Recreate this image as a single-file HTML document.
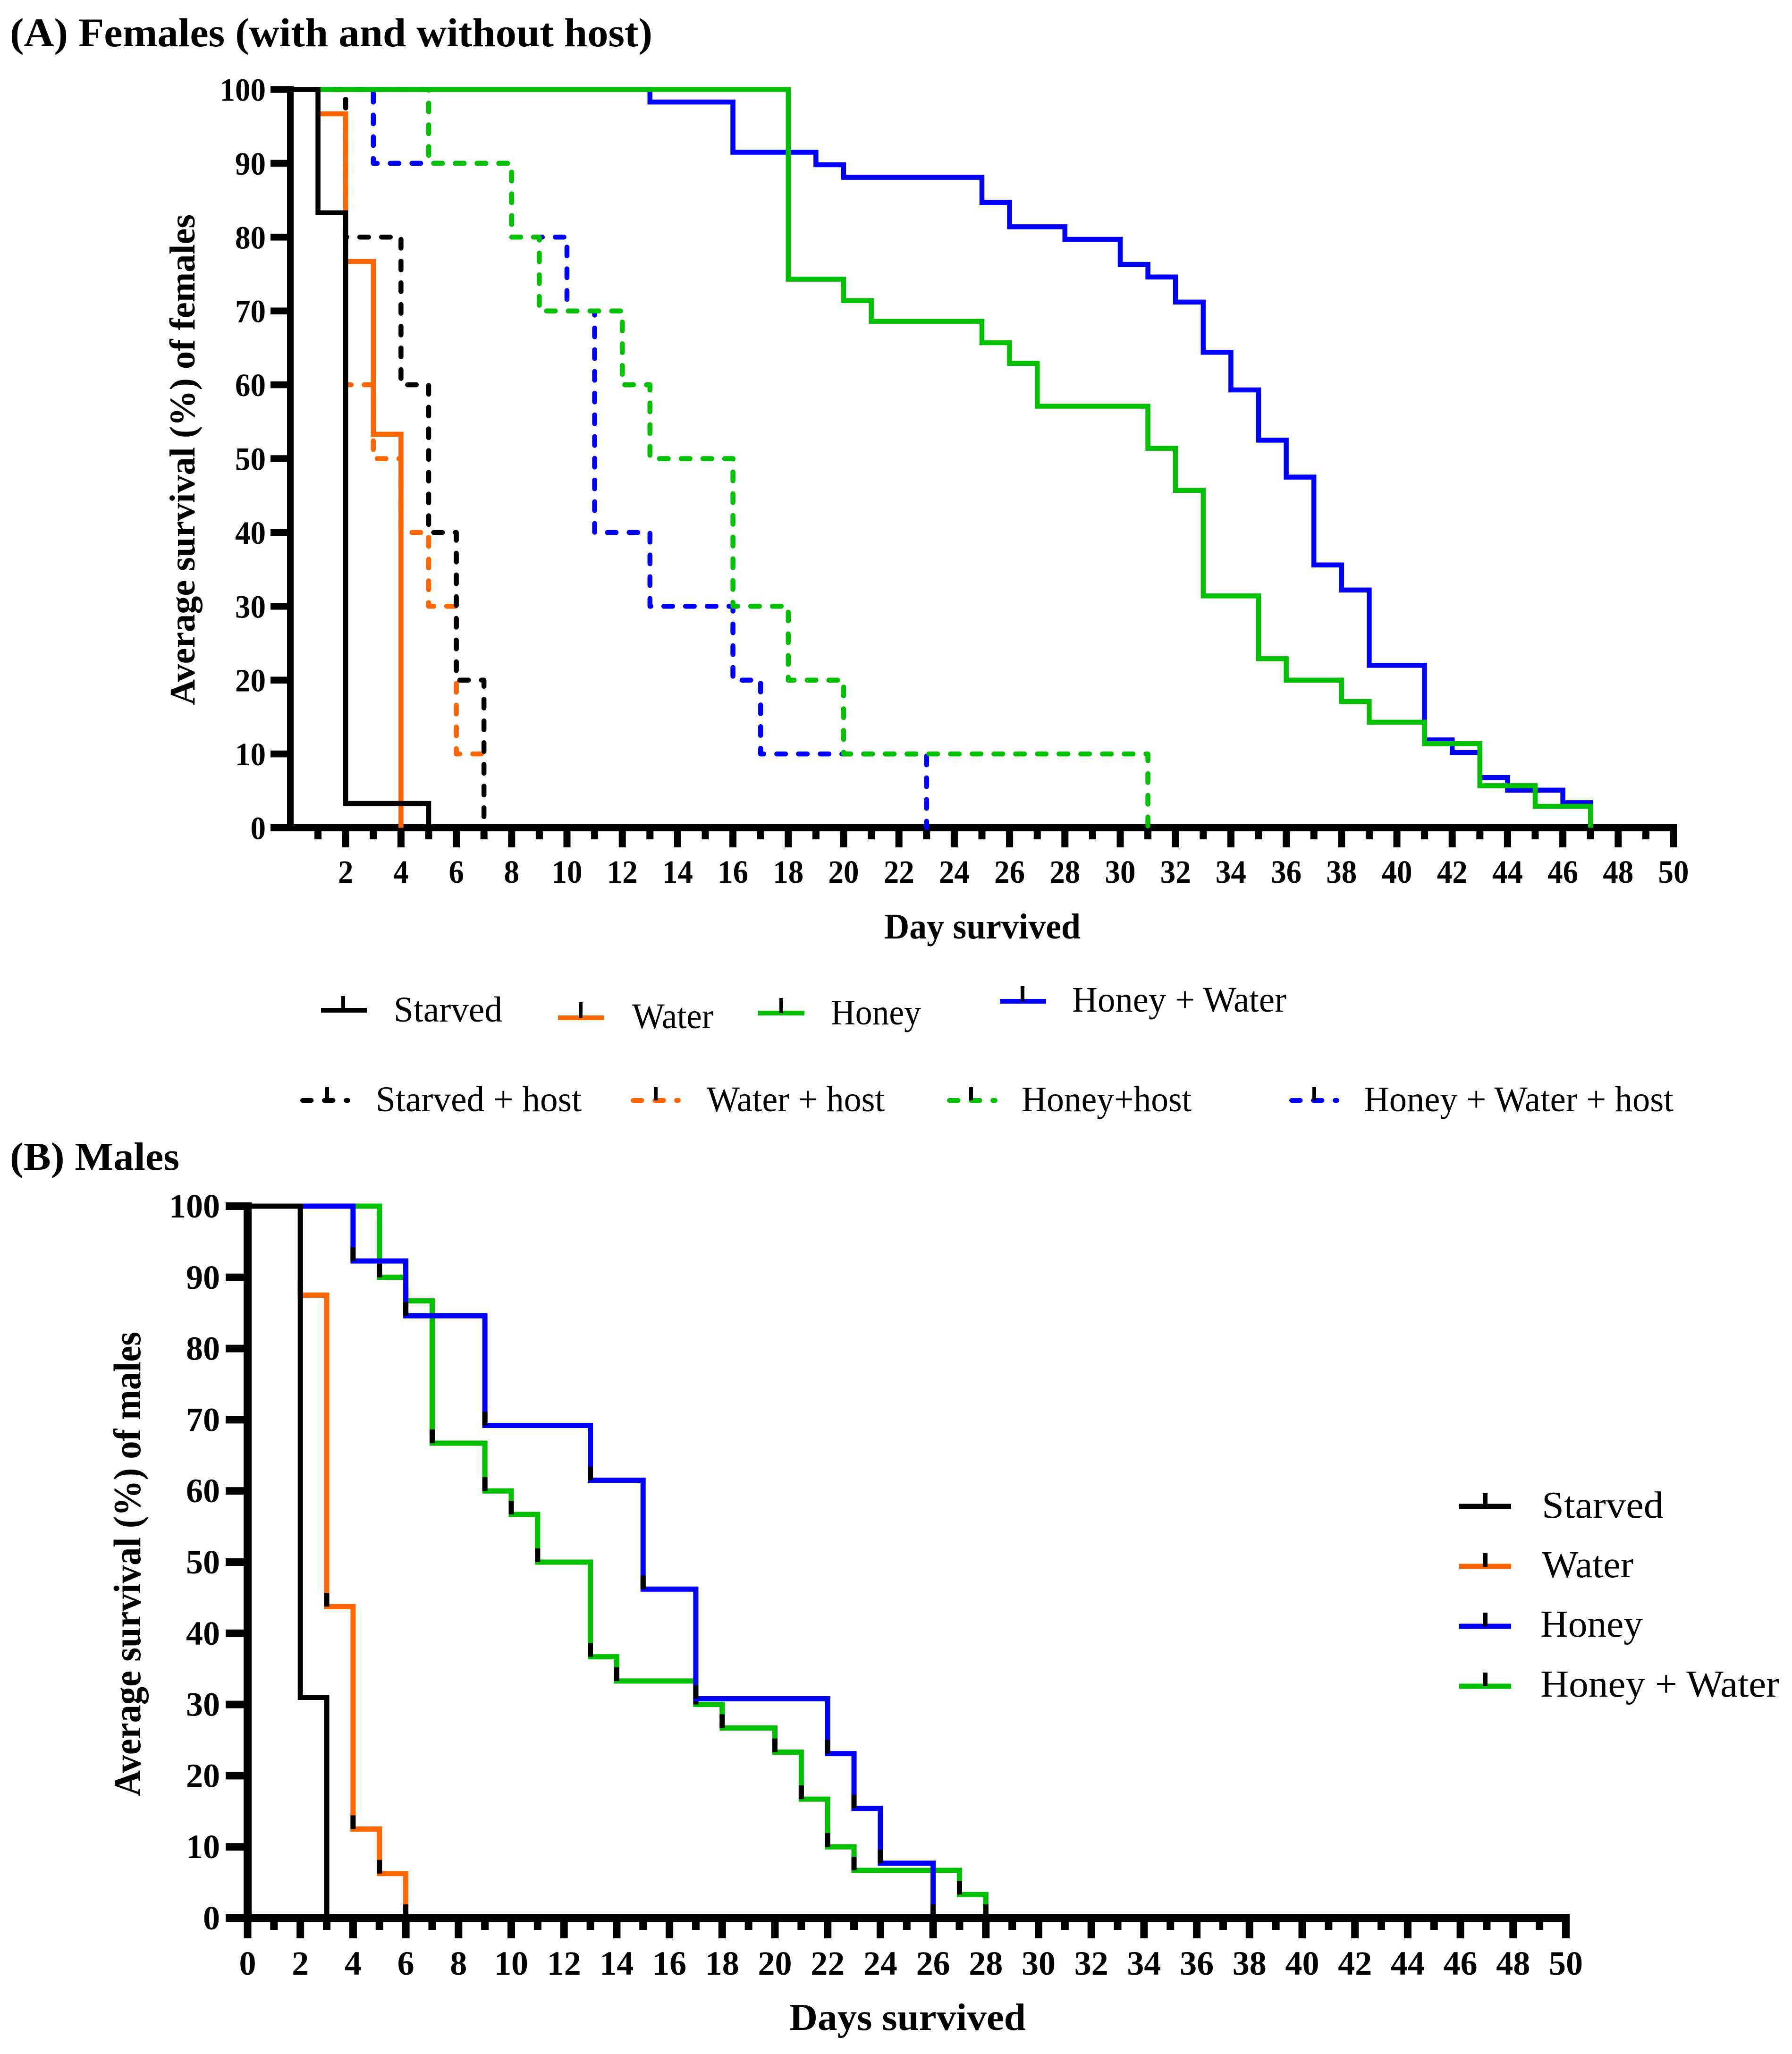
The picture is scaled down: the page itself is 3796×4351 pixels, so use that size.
<!DOCTYPE html>
<html lang="en">
<head>
<meta charset="utf-8">
<title>Average survival of females and males</title>
<style>
html,body{margin:0;padding:0;background:#fff;}
svg{display:block;}
text{font-family:"Liberation Serif","DejaVu Serif",serif;fill:#000;}
.b{font-weight:bold;}
</style>
</head>
<body>
<svg id="fig" xmlns="http://www.w3.org/2000/svg" width="3796" height="4351" viewBox="0 0 3796 4351">
<rect x="0" y="0" width="3796" height="4351" fill="#fff"/>
<text class="b" x="21" y="98" font-size="86" textLength="1361" lengthAdjust="spacingAndGlyphs">(A) Females (with and without host)</text>
<text class="b" x="21" y="2478" font-size="84" textLength="359" lengthAdjust="spacingAndGlyphs">(B) Males</text>
<text class="b" transform="translate(412,1494) rotate(-90)" font-size="76" textLength="1040" lengthAdjust="spacingAndGlyphs">Average survival (%) of females</text>
<text class="b" x="1873" y="1988" font-size="76" textLength="416" lengthAdjust="spacingAndGlyphs">Day survived</text>
<text class="b" transform="translate(297,3805) rotate(-90)" font-size="82" textLength="984" lengthAdjust="spacingAndGlyphs">Average survival (%) of males</text>
<text class="b" x="1672" y="4300" font-size="80" textLength="501" lengthAdjust="spacingAndGlyphs">Days survived</text>

<g id="panelA"></g>
<g id="panelB"></g>

<g>
  <g>
    <line x1="680" y1="2140" x2="777" y2="2140" stroke="#000" stroke-width="10"/><line x1="727" y1="2110" x2="727" y2="2140" stroke="#000" stroke-width="8"/>
    <text x="834" y="2164" font-size="76" textLength="230" lengthAdjust="spacingAndGlyphs">Starved</text>
  </g>
  <g>
    <line x1="1182" y1="2156" x2="1280" y2="2156" stroke="#ff6600" stroke-width="10"/><line x1="1230" y1="2123" x2="1230" y2="2156" stroke="#000" stroke-width="8"/>
    <text x="1339" y="2178" font-size="76" textLength="172" lengthAdjust="spacingAndGlyphs">Water</text>
  </g>
  <g>
    <line x1="1606" y1="2146" x2="1704" y2="2146" stroke="#00c000" stroke-width="10"/><line x1="1655" y1="2114" x2="1655" y2="2146" stroke="#000" stroke-width="8"/>
    <text x="1760" y="2170" font-size="76" textLength="191" lengthAdjust="spacingAndGlyphs">Honey</text>
  </g>
  <g>
    <line x1="2118" y1="2121" x2="2216" y2="2121" stroke="#0000ff" stroke-width="10"/><line x1="2166" y1="2089" x2="2166" y2="2121" stroke="#000" stroke-width="8"/>
    <text x="2271" y="2143" font-size="76" textLength="454" lengthAdjust="spacingAndGlyphs">Honey + Water</text>
  </g>
  <g>
    <line x1="641" y1="2331" x2="737" y2="2331" stroke="#000" stroke-width="10" stroke-linecap="round" stroke-dasharray="18.5 27.5"/><line x1="693" y1="2303" x2="693" y2="2331" stroke="#000" stroke-width="8"/>
    <text x="796" y="2354" font-size="76" textLength="436" lengthAdjust="spacingAndGlyphs">Starved + host</text>
  </g>
  <g>
    <line x1="1341" y1="2331" x2="1437" y2="2331" stroke="#ff6600" stroke-width="10" stroke-linecap="round" stroke-dasharray="18.5 27.5"/><line x1="1389" y1="2303" x2="1389" y2="2331" stroke="#000" stroke-width="8"/>
    <text x="1497" y="2354" font-size="76" textLength="377" lengthAdjust="spacingAndGlyphs">Water + host</text>
  </g>
  <g>
    <line x1="2011" y1="2331" x2="2108" y2="2331" stroke="#00c000" stroke-width="10" stroke-linecap="round" stroke-dasharray="18.5 27.5"/><line x1="2057" y1="2303" x2="2057" y2="2331" stroke="#000" stroke-width="8"/>
    <text x="2164" y="2354" font-size="76" textLength="360" lengthAdjust="spacingAndGlyphs">Honey+host</text>
  </g>
  <g>
    <line x1="2736" y1="2331" x2="2832" y2="2331" stroke="#0000ff" stroke-width="10" stroke-linecap="round" stroke-dasharray="18.5 27.5"/><line x1="2784" y1="2303" x2="2784" y2="2331" stroke="#000" stroke-width="8"/>
    <text x="2889" y="2354" font-size="76" textLength="656" lengthAdjust="spacingAndGlyphs">Honey + Water + host</text>
  </g>
</g>

<g>
  <g>
    <line x1="3091" y1="3191" x2="3201" y2="3191" stroke="#000" stroke-width="11"/><line x1="3146" y1="3163" x2="3146" y2="3191" stroke="#000" stroke-width="10"/>
    <text x="3266" y="3215" font-size="80" textLength="258" lengthAdjust="spacingAndGlyphs">Starved</text>
  </g>
  <g>
    <line x1="3091" y1="3318" x2="3201" y2="3318" stroke="#ff6600" stroke-width="11"/><line x1="3146" y1="3290" x2="3146" y2="3319" stroke="#000" stroke-width="10"/>
    <text x="3266" y="3341" font-size="80" textLength="194" lengthAdjust="spacingAndGlyphs">Water</text>
  </g>
  <g>
    <line x1="3091" y1="3445" x2="3201" y2="3445" stroke="#0000ff" stroke-width="11"/><line x1="3146" y1="3416" x2="3146" y2="3445" stroke="#000" stroke-width="10"/>
    <text x="3263" y="3467" font-size="80" textLength="217" lengthAdjust="spacingAndGlyphs">Honey</text>
  </g>
  <g>
    <line x1="3091" y1="3572" x2="3201" y2="3572" stroke="#00c000" stroke-width="11"/><line x1="3146" y1="3543" x2="3146" y2="3572" stroke="#000" stroke-width="10"/>
    <text x="3263" y="3594" font-size="80" textLength="506" lengthAdjust="spacingAndGlyphs">Honey + Water</text>
  </g>
</g>
</svg>
<script>
// ---- tick data ----
const yTickValues = [0,10,20,30,40,50,60,70,80,90,100];
const dayTickValues = [];
const femaleXLabels = ['2','4','6','8','10','12','14','16','18','20','22','24','26','28','30','32','34','36','38','40','42','44','46','48','50'];
const maleXLabels = ['0','2','4','6','8','10','12','14','16','18','20','22','24','26','28','30','32','34','36','38','40','42','44','46','48','50'];

// ---- panel A: day of each drop and the survival value after that drop ----
const fStarvedDays = [1,2,5];
const fStarvedValues = [83.3,3.3,0];
const fWaterDays = [1,2,3,4];
const fWaterValues = [96.7,76.7,53.3,0];
const fHoneyDays = [18,20,21,25,26,27,31,32,33,35,36,38,39,41,43,45,47];
const fHoneyValues = [74.3,71.4,68.6,65.7,62.9,57.1,51.4,45.7,31.4,22.9,20,17.1,14.3,11.4,5.7,2.9,0];
const fHoneyWaterDays = [13,16,19,20,25,26,28,30,31,32,33,34,35,36,37,38,39,41,42,43,44,46,47];
const fHoneyWaterValues = [98.3,91.5,89.8,88.1,84.7,81.4,79.7,76.3,74.6,71.2,64.4,59.3,52.5,47.5,35.6,32.2,22,11.9,10.2,6.8,5.1,3.4,0];
const fStarvedHostDays = [2,4,5,6,7];
const fStarvedHostValues = [80,60,40,20,0];
const fWaterHostDays = [2,3,4,5,6,7];
const fWaterHostValues = [60,50,40,30,10,0];
const fHoneyHostDays = [5,8,9,12,13,16,18,20,31];
const fHoneyHostValues = [90,80,70,60,50,30,20,10,0];
const fHoneyWaterHostDays = [3,8,10,11,13,16,17,23];
const fHoneyWaterHostValues = [90,80,70,40,30,20,10,0];

// ---- panel B ----
const mStarvedDays = [2,3];
const mStarvedValues = [31,0];
const mWaterDays = [2,3,4,5,6];
const mWaterValues = [87.5,43.75,12.5,6.25,0];
const mHoneyDays = [4,6,9,13,15,17,22,23,24,26];
const mHoneyValues = [92.3,84.6,69.2,61.5,46.2,30.8,23.1,15.4,7.7,0];
const mHoneyWaterDays = [5,6,7,9,10,11,13,14,17,18,20,21,22,23,27,28];
const mHoneyWaterValues = [90,86.7,66.7,60,56.7,50,36.7,33.3,30,26.7,23.3,16.7,10,6.7,3.3,0];

for (let d = 0; d <= 50; d++) { dayTickValues.push(d); }

const NS = 'http://www.w3.org/2000/svg';
function mk(parent, tag, attrs) {
  const el = document.createElementNS(NS, tag);
  for (const k in attrs) { el.setAttribute(k, attrs[k]); }
  parent.appendChild(el);
  return el;
}
function stepPath(days, values, sx, sy) {
  let p = 'M' + sx(0) + ' ' + sy(100);
  let prev = 100;
  for (let i = 0; i < days.length; i++) {
    p += ' L' + sx(days[i]) + ' ' + sy(prev);
    p += ' L' + sx(days[i]) + ' ' + sy(values[i]);
    prev = values[i];
  }
  return p;
}
function drawAxes(g, c) {
  const sx = c.sx, sy = c.sy;
  const yAxis = mk(g, 'rect', {x: sx(0) - c.yAxisW / 2, y: sy(100) - c.yTickH / 2, width: c.yAxisW, height: sy(0) - sy(100) + c.yTickH / 2, fill: '#000'});
  
  
  const xAxis = mk(g, 'rect', {x: c.yTickLeft, y: sy(0) - c.xAxisW / 2, width: sx(50) + c.tickW / 2 - c.yTickLeft, height: c.xAxisW, fill: '#000'});
  
  
  yTickValues.forEach(function (v) {
    const t = mk(g, 'rect', {x: c.yTickLeft, y: sy(v) - c.yTickH / 2, width: sx(0) - c.yTickLeft, height: c.yTickH, fill: '#000'});
    
    
    const s = String(v);
    const l = mk(g, 'text', {x: c.yLabelX, y: sy(v) + 24, 'text-anchor': 'end', 'font-size': c.font, 'font-weight': 'bold', textLength: s.length * c.digitW, lengthAdjust: 'spacingAndGlyphs'});
    l.textContent = s;
    
    
  });
  dayTickValues.forEach(function (d) {
    if (d === 0 && !c.zeroTick) { return; }
    const major = d % 2 === 0;
    const t = mk(g, 'rect', {x: sx(d) - c.tickW / 2, y: sy(0), width: c.tickW, height: major ? c.majorLen : c.minorLen, fill: '#000'});
    
    
  });
  c.xLabels.forEach(function (s) {
    const l = mk(g, 'text', {x: sx(Number(s)), y: c.xLabelY, 'text-anchor': 'middle', 'font-size': c.font, 'font-weight': 'bold', textLength: s.length * c.digitW, lengthAdjust: 'spacingAndGlyphs'});
    l.textContent = s;
    
    
  });
}
function drawSeries(g, c, name, color, days, values, dashed) {
  const attrs = {d: stepPath(days, values, c.sx, c.sy), fill: 'none', stroke: color, 'stroke-width': c.lineW, 'stroke-linejoin': 'miter'};
  if (dashed) {
    attrs['stroke-dasharray'] = '18.5 27.5';
    attrs['stroke-linecap'] = 'round';
    attrs['stroke-linejoin'] = 'round';
  }
  const p = mk(g, 'path', attrs);
  
  
}
function drawCensorTicks(g, c, name, days, values) {
  days.forEach(function (d, i) {
    const t = mk(g, 'rect', {x: c.sx(d) - 5.5, y: c.sy(values[i]) - 29, width: 11, height: 29, fill: '#000'});
    
    
  });
}

const cfgA = {
  id: 'panel-a', sx: function (d) { return 615 + 58.6 * d; }, sy: function (v) { return 1753.5 - 15.64 * v; },
  xAxisW: 15, yAxisW: 14, tickW: 15, yTickH: 14.5, yTickLeft: 573, majorLen: 41.5, minorLen: 24.5, yLabelX: 563, xLabelY: 1870, font: 69, digitW: 32.5,
  xLabels: femaleXLabels, zeroTick: false, lineW: 10.5
};
const cfgB = {
  id: 'panel-b', sx: function (d) { return 524.5 + 55.85 * d; }, sy: function (v) { return 4063 - 15.08 * v; },
  xAxisW: 17, yAxisW: 17, tickW: 16, yTickH: 16, yTickLeft: 478, majorLen: 43, minorLen: 25, yLabelX: 466, xLabelY: 4183, font: 72, digitW: 36,
  xLabels: maleXLabels, zeroTick: true, lineW: 11
};

const gA = document.getElementById('panelA');
const gB = document.getElementById('panelB');
drawAxes(gA, cfgA);
drawSeries(gA, cfgA, 'series-honey-water-host', '#0000ff', fHoneyWaterHostDays, fHoneyWaterHostValues, true);
drawSeries(gA, cfgA, 'series-honey-host', '#00c000', fHoneyHostDays, fHoneyHostValues, true);
drawSeries(gA, cfgA, 'series-water-host', '#ff6600', fWaterHostDays, fWaterHostValues, true);
drawSeries(gA, cfgA, 'series-starved-host', '#000000', fStarvedHostDays, fStarvedHostValues, true);
drawSeries(gA, cfgA, 'series-honey-water', '#0000ff', fHoneyWaterDays, fHoneyWaterValues, false);
drawSeries(gA, cfgA, 'series-honey', '#00c000', fHoneyDays, fHoneyValues, false);
drawSeries(gA, cfgA, 'series-water', '#ff6600', fWaterDays, fWaterValues, false);
drawSeries(gA, cfgA, 'series-starved', '#000000', fStarvedDays, fStarvedValues, false);

drawAxes(gB, cfgB);
drawSeries(gB, cfgB, 'series-male-honey-water', '#00c000', mHoneyWaterDays, mHoneyWaterValues, false);
drawCensorTicks(gB, cfgB, 'male-honey-water', mHoneyWaterDays, mHoneyWaterValues);
drawSeries(gB, cfgB, 'series-male-honey', '#0000ff', mHoneyDays, mHoneyValues, false);
drawCensorTicks(gB, cfgB, 'male-honey', mHoneyDays, mHoneyValues);
drawSeries(gB, cfgB, 'series-male-water', '#ff6600', mWaterDays, mWaterValues, false);
drawCensorTicks(gB, cfgB, 'male-water', mWaterDays, mWaterValues);
drawSeries(gB, cfgB, 'series-male-starved', '#000000', mStarvedDays, mStarvedValues, false);
</script>
</body>
</html>
